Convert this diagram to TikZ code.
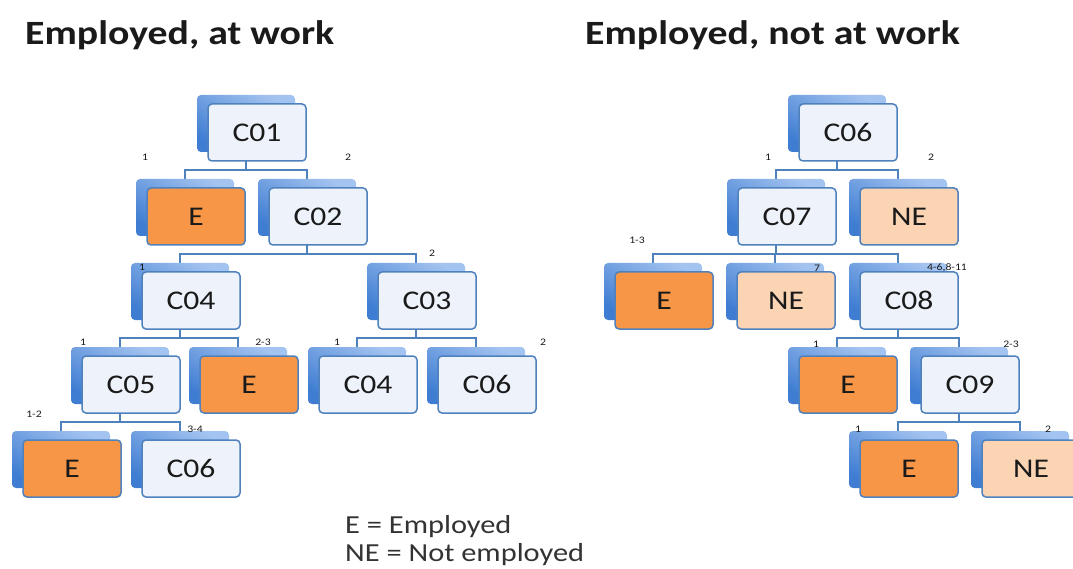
\documentclass[tikz,border=0pt]{standalone}
\usepackage{fontspec}
\setmainfont{Carlito}[FakeStretch=1.17]
\usetikzlibrary{backgrounds}

\definecolor{linkblue}{HTML}{4F81BD}
\definecolor{backtop}{HTML}{A3C3F0}
\definecolor{backbot}{HTML}{3F7DD2}
\definecolor{frontfill}{HTML}{EEF3FB}
\definecolor{empfill}{HTML}{F79646}
\definecolor{nefill}{HTML}{FBD4B4}
\definecolor{inktext}{HTML}{1A1A1A}

% back plate (#1) plus the framed card in front of it (#1f)
\newcommand{\treebox}[5]{%
  \node[backbox] (#1) at (#2,#3) {};
  \node[frontbox,#4] (#1f) at ([shift={(11,9)}]#1.center) {#5};
}

\begin{document}
\begin{tikzpicture}[
  x=1pt, y=-1pt,
  backbox/.style={rectangle, rounded corners=4pt, minimum width=98pt, minimum height=57pt,
    outer sep=0pt, top color=backtop, bottom color=backbot, shading angle=-30},
  frontbox/.style={rectangle, rounded corners=4pt, minimum width=98pt, minimum height=57pt,
    outer sep=0pt, draw=linkblue, line width=1.5pt, fill=frontfill, text=inktext,
    font=\fontsize{27}{30}\selectfont},
  emp/.style={fill=empfill},
  notemp/.style={fill=nefill},
  link/.style={draw=linkblue, line width=2pt},
  num/.style={inner sep=0pt, text=inktext, font=\fontsize{10}{12}\selectfont},
  title/.style={inner sep=0pt, anchor=base west, text=inktext, font=\bfseries\fontsize{34}{40}\selectfont},
  legend/.style={inner sep=0pt, anchor=base west, text=black!80, font=\fontsize{26}{30}\selectfont}
]
\useasboundingbox (0,0) rectangle (1073,569);

\node[title] (ttlwork) at (25,45) {Employed, at work};
\node[title] (ttlaway) at (585,45) {Employed, not at work};

% at work tree
\treebox{w01}{246}{123.5}{}{C01}
\treebox{wE1}{185}{207.5}{emp}{E}
\treebox{w02}{307}{207.5}{}{C02}
\treebox{w04}{180}{291.5}{}{C04}
\treebox{w03}{416}{291.5}{}{C03}
\treebox{w05}{120}{375.5}{}{C05}
\treebox{wE2}{238}{375.5}{emp}{E}
\treebox{w34}{357}{375.5}{}{C04}
\treebox{w36}{476}{375.5}{}{C06}
\treebox{wE3}{61}{459.5}{emp}{E}
\treebox{w56}{180}{459.5}{}{C06}

% not at work tree
\treebox{n06}{837}{123.5}{}{C06}
\treebox{n07}{776}{207.5}{}{C07}
\treebox{nNE1}{898}{207.5}{notemp}{NE}
\treebox{nE1}{653}{291.5}{emp}{E}
\treebox{nNE2}{775}{291.5}{notemp}{NE}
\treebox{n08}{898}{291.5}{}{C08}
\treebox{nE2}{837}{375.5}{emp}{E}
\treebox{n09}{959}{375.5}{}{C09}
\treebox{nE3}{898}{459.5}{emp}{E}
\treebox{nNE3}{1020}{459.5}{notemp}{NE}

% Elbow connectors, kept behind the cards
\begin{scope}[on background layer]
\draw[link] (w01.south) -- ++(0,18) -| (wE1.north);
\draw[link] (w01.south) -- ++(0,18) -| (w02.north);
\draw[link] (w02.south) -- ++(0,18) -| (w04.north);
\draw[link] (w02.south) -- ++(0,18) -| (w03.north);
\draw[link] (w04.south) -- ++(0,18) -| (w05.north);
\draw[link] (w04.south) -- ++(0,18) -| (wE2.north);
\draw[link] (w03.south) -- ++(0,18) -| (w34.north);
\draw[link] (w03.south) -- ++(0,18) -| (w36.north);
\draw[link] (w05.south) -- ++(0,18) -| (wE3.north);
\draw[link] (w05.south) -- ++(0,18) -| (w56.north);

\draw[link] (n06.south) -- ++(0,18) -| (n07.north);
\draw[link] (n06.south) -- ++(0,18) -| (nNE1.north);
\draw[link] (n07.south) -- ++(0,18) -| (nE1.north);
\draw[link] (n07.south) -- ++(0,18) -| (nNE2.north);
\draw[link] (n07.south) -- ++(0,18) -| (n08.north);
\draw[link] (n08.south) -- ++(0,18) -| (nE2.north);
\draw[link] (n08.south) -- ++(0,18) -| (n09.north);
\draw[link] (n09.south) -- ++(0,18) -| (nE3.north);
\draw[link] (n09.south) -- ++(0,18) -| (nNE3.north);
\end{scope}

% branch values
\node[num] (vw1) at (145,157) {1};
\node[num] (vw2) at (348,157) {2};
\node[num] (vw3) at (142,267) {1};
\node[num] (vw4) at (432,253) {2};
\node[num] (vw5) at (83,342) {1};
\node[num] (vw6) at (263,342) {2-3};
\node[num] (vw7) at (337,342) {1};
\node[num] (vw8) at (543,342) {2};
\node[num] (vw9) at (34,414) {1-2};
\node[num] (vw10) at (195,429) {3-4};

\node[num] (vn1) at (768,157) {1};
\node[num] (vn2) at (931,157) {2};
\node[num] (vn3) at (637,240) {1-3};
\node[num] (vn4) at (817,268) {7};
\node[num] (vn5) at (947,268) {4-6,8-11};
\node[num] (vn6) at (816,344) {1};
\node[num] (vn7) at (1011,344) {2-3};
\node[num] (vn8) at (858,429) {1};
\node[num] (vn9) at (1048,429) {2};

% key
\node[legend] (key1) at (345,533) {E = Employed};
\node[legend] (key2) at (345,561) {NE = Not employed};
\end{tikzpicture}
\end{document}
